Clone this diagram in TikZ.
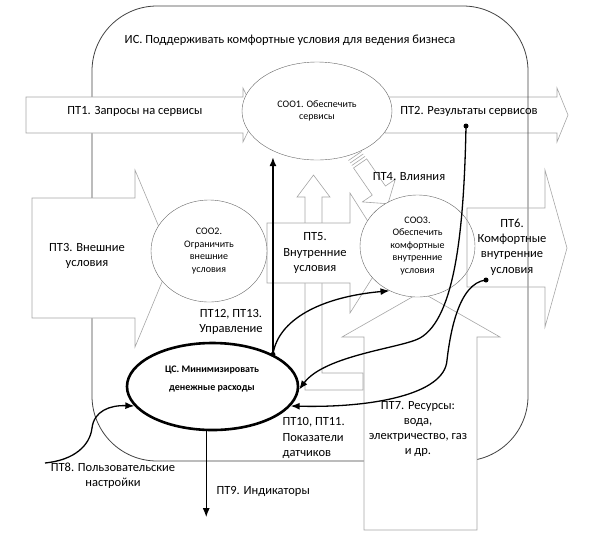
\documentclass[tikz,border=0pt]{standalone}
\usepackage{fontspec}
\setmainfont{Carlito}
\usetikzlibrary{arrows.meta,shapes.geometric}

\begin{document}
\begin{tikzpicture}[x=1pt,y=-1pt,>={Latex[length=9pt,width=7pt]},
    blk/.style={draw=black!35,fill=white,line width=0.6pt},
    soo/.style={ellipse,draw=black!60,fill=white,inner sep=0pt,align=center,font=\fontsize{10}{12.5}\selectfont},
    lbl/.style={align=center,font=\fontsize{12.5}{15.3}\selectfont},
    flow/.style={->,line width=1.3pt},
    blob/.style={circle,fill=black,inner sep=0pt,minimum size=5pt}]
\useasboundingbox (0,0) rectangle (591,539);

\draw[blk] (385,97) -- (557,97) -- (557,88) -- (568,115) -- (557,142) -- (557,133) -- (385,133) -- cycle;
\draw[black!75,line width=0.8pt,rounded corners=65pt] (92,6) rectangle (528,461);
\draw[blk] (26,97) -- (243,97) -- (243,88) -- (256,115) -- (243,142) -- (243,133) -- (26,133) -- cycle;
\draw[blk] (32,198) -- (135,198) -- (135,170) -- (172,258) -- (135,347) -- (135,318) -- (32,318) -- cycle;
\draw[blk] (363,373) -- (322,373) -- (322,197) -- (330,197) -- (313.5,175) -- (297,197) -- (305,197) -- (305,390) -- (363,390) -- cycle;
\draw[blk] (267,223) -- (350,223) -- (350,193) -- (388,253) -- (350,313) -- (350,283) -- (267,283) -- cycle;
\draw[blk] (364,530) -- (364,337) -- (342,337) -- (421,292) -- (500,337) -- (477,337) -- (477,530) -- cycle;
\begin{scope}[shift={(355,156)},rotate=-55.4]
  \draw[blk] (9,-8) -- (42,-8) -- (42,-20) -- (58,0) -- (42,20) -- (42,8) -- (9,8) -- cycle;
  \foreach \u in {0,3,6} \draw[black!35,line width=0.6pt] (\u,-8) -- (\u,8);
\end{scope}

\node[soo,minimum width=150pt,minimum height=98pt] (coo1) at (317,111) {СОО1. Обеспечить\\сервисы};
\node[soo,minimum width=116pt,minimum height=102pt] (coo2) at (209,251) {СОО2.\\Ограничить\\внешние\\условия};
\node[soo,minimum width=115pt,minimum height=102pt] (coo3) at (417.5,246) {СОО3.\\Обеспечить\\комфортные\\внутренние\\условия};
\node[ellipse,draw,fill=white,line width=2.6pt,minimum width=171pt,minimum height=87pt] (cs) at (212.5,386.5) {};
\node[font=\fontsize{10}{18}\selectfont\bfseries,align=center] (cstext) at (212,379) {ЦС. Минимизировать\\денежные расходы};

\draw[black!35,line width=0.6pt] (467,208) -- (545,208) -- (545,170) -- (567,248) -- (545,327) -- (545,287) -- (467,287) -- cycle;

\node[lbl] (is) at (290,40) {ИС. Поддерживать комфортные условия для ведения бизнеса};
\node[lbl] (pt1) at (135,111) {ПТ1. Запросы на сервисы};
\node[lbl] (pt2) at (469,111) {ПТ2. Результаты сервисов};
\node[lbl] (pt3) at (87,256) {ПТ3. Внешние\\условия};
\node[lbl] (pt4) at (409,177) {ПТ4. Влияния};
\node[lbl] (pt5) at (315,253) {ПТ5.\\Внутренние\\условия};
\node[lbl] (pt6) at (512,247) {ПТ6.\\Комфортные\\внутренние\\условия};
\node[lbl] (pt7) at (418,429) {ПТ7. Ресурсы:\\вода,\\электричество, газ\\и др.};
\node[lbl] (pt8) at (113,476) {ПТ8. Пользовательские\\настройки};
\node[lbl,anchor=west] (pt9) at (213,491) {ПТ9. Индикаторы};
\node[lbl,align=left,anchor=west] (pt10) at (279,438) {ПТ10, ПТ11.\\Показатели\\датчиков};
\node[lbl] (pt12) at (231,322) {ПТ12, ПТ13.\\Управление};

\coordinate (res) at (466,126);
\coordinate (cmf) at (486,280);
\coordinate (usr) at (45,463);
\path (cs.262) ++(0,86) coordinate (ind);

\draw[->,line width=2pt] (cs.28) -- (cs.28 |- coo1.240);
\draw[flow] (cs.28) .. controls (278,320) and (320,297) .. (coo3.238);
\draw[flow] (res) .. controls (464,230) and (455,318) .. (420,338) .. controls (402,348) and (325,355) .. (cs.-2);
\draw[flow] (cmf) .. controls (458,283) and (450,335) .. (447,360) .. controls (445,395) and (370,408) .. (cs.-14);
\draw[flow] (usr) .. controls (75,460) and (90,445) .. (92,428) .. controls (94,411) and (110,405) .. (cs.194);
\draw[flow] (cs.262) -- (ind);
\node[blob] at (cs.28) {};
\node[blob] at (res) {};
\node[blob] at (cmf) {};
\end{tikzpicture}
\end{document}
